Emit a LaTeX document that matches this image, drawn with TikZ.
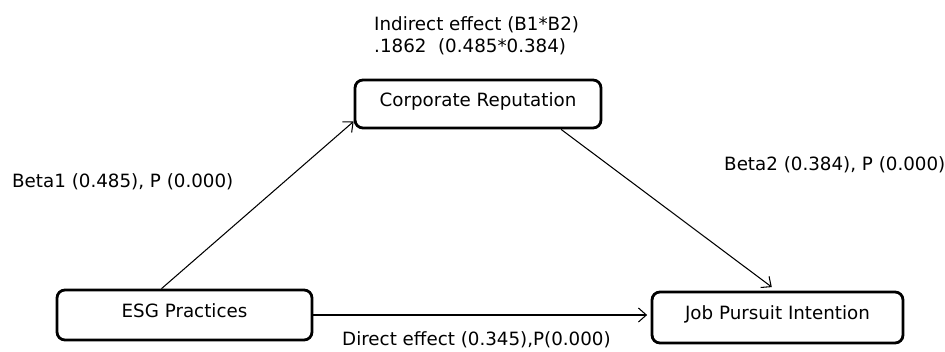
\documentclass[tikz,border=0pt]{standalone}
\usepackage{fontspec}
\setmainfont{DejaVu Sans}
\usetikzlibrary{arrows.meta}

\begin{document}
\begin{tikzpicture}[x=0.02cm,y=-0.02cm,
  font=\fontsize{10.4}{12.5}\selectfont,
  box/.style={draw,line width=1.6pt,rounded corners=4.5pt,text height=7.5pt,text depth=5pt},
  effect/.style={line width=0.6pt,-{Straight Barb[length=4.5pt,width=8pt]}}]

\useasboundingbox (0,0) rectangle (945,351);

\node[box,minimum width=5.1cm,minimum height=1cm] (esg) at (184.5,315) {ESG Practices};
\node[box,minimum width=4.92cm,minimum height=0.96cm] (cr) at (478,104) {Corporate Reputation};
\node[box,minimum width=5.02cm,minimum height=1.02cm] (jp) at (777.5,317.5) {Job Pursuit Intention};

\draw[effect] (esg.131) -- (cr.188);
\draw[effect] (cr.343) -- ([yshift=2pt]jp.102);
\draw[effect] (esg.east) -- ([xshift=-2pt]esg.east -| jp.west);

\node[anchor=west] (ind1) at (368,25) {Indirect effect (B1*B2)};
\node[anchor=west] (ind2) at (368,47) {.1862\ \ (0.485*0.384)};
\node[anchor=west] (beta1) at (6,182) {Beta1 (0.485), P (0.000)};
\node[anchor=west] (beta2) at (718,165) {Beta2 (0.384), P (0.000)};
\node[anchor=west] (direct) at (336,340) {Direct effect (0.345),P(0.000)};
\end{tikzpicture}
\end{document}
